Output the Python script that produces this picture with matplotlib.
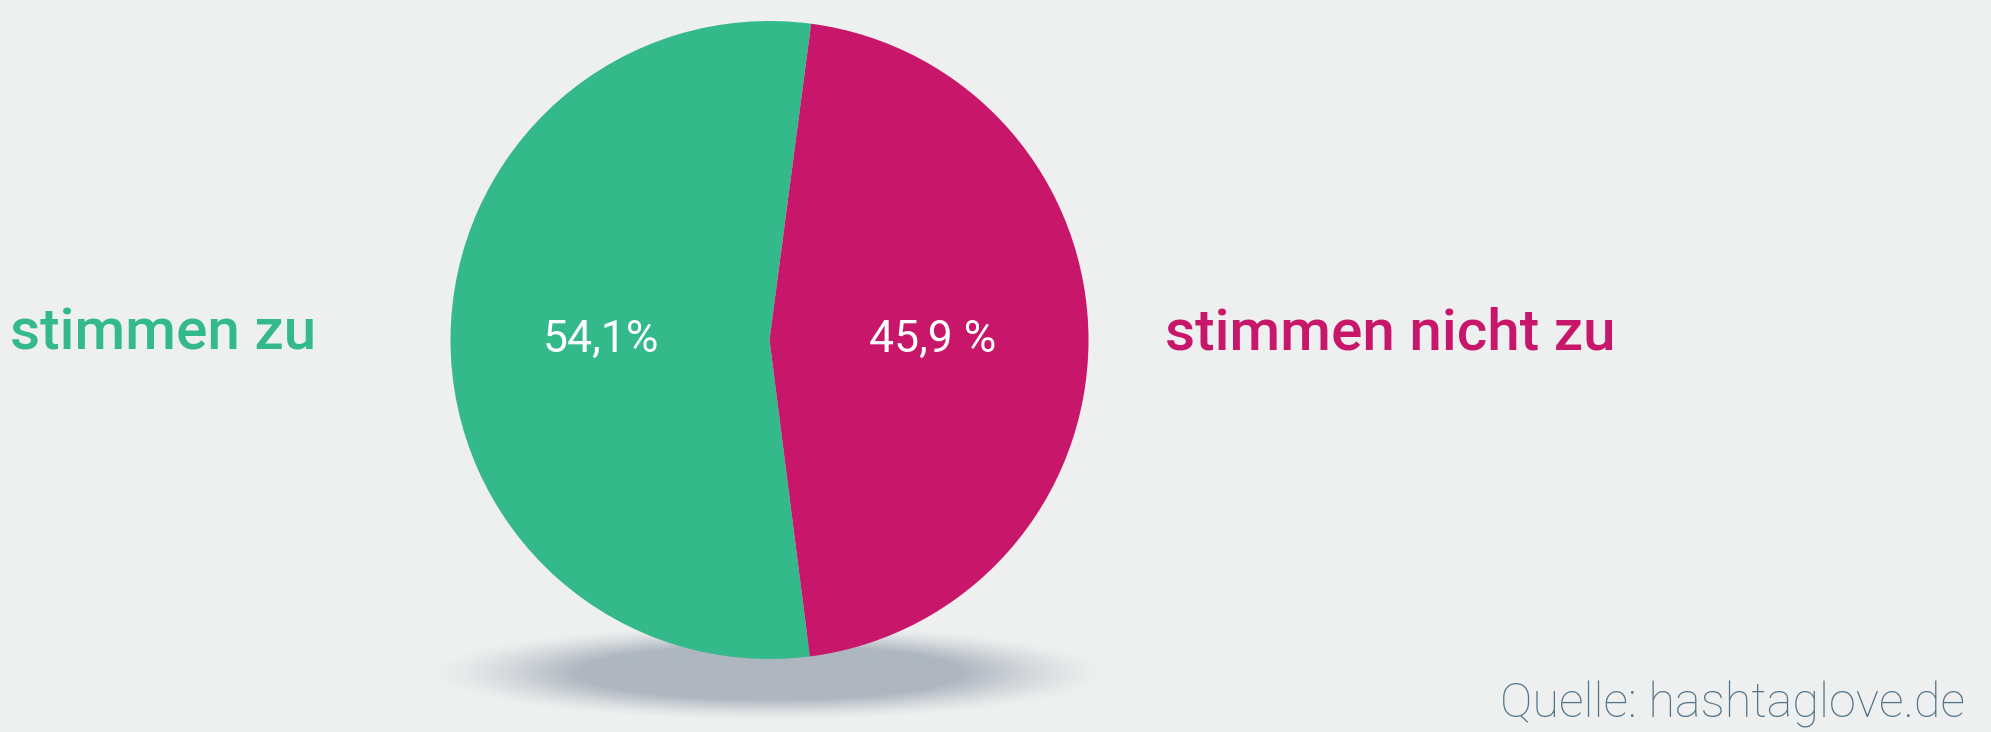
import numpy as np
import matplotlib
matplotlib.use('Agg')
import matplotlib.pyplot as plt

categories = ['stimmen zu', 'stimmen nicht zu']
shares = [54.1, 45.9]
pct_labels = ['54,1%', '45,9 %']
colors = ['#33b98a', '#c8176a']
source = 'Quelle: hashtaglove.de'

W, H = 1991, 732
bg = '#eef0ef'

fig = plt.figure(figsize=(W / 100, H / 100), dpi=100, facecolor=bg)
ax = fig.add_axes([0, 0, 1, 1])
ax.set_facecolor(bg)

# soft shadow under the pie
cx, cy, r = 769.5, H - 340, 319
sx, sy = np.meshgrid(np.linspace(-1.6, 1.6, 400), np.linspace(-1.6, 1.6, 120))
d = np.sqrt(sx ** 2 + sy ** 2)
alpha = np.clip((1.4 - d) / 0.6, 0, 1) ** 1.3
img = np.zeros(sx.shape + (4,))
img[..., :3] = matplotlib.colors.to_rgb('#aeb6c0')
img[..., 3] = alpha
ax.imshow(img, extent=(cx - 1.6 * 240, cx + 1.6 * 240, H - 673 - 1.6 * 34, H - 673 + 1.6 * 34),
          aspect='auto', zorder=0, interpolation='bilinear')

ax.pie(shares, colors=colors, startangle=82.5, counterclock=True,
       center=(cx, cy), radius=r, wedgeprops=dict(linewidth=0), frame=True)

ax.text(601, H - 352, pct_labels[0], color='white', fontsize=32, family='Roboto',
        ha='center', va='baseline', zorder=5)
ax.text(933, H - 352, pct_labels[1], color='white', fontsize=32, family='Roboto',
        ha='center', va='baseline', zorder=5)

ax.text(10, H - 349, categories[0], color=colors[0], fontsize=42, family='Roboto',
        ha='left', va='baseline', fontweight='medium')
ax.text(1165, H - 349, categories[1], color=colors[1], fontsize=42, family='Roboto',
        ha='left', va='baseline', fontweight='medium')

ax.text(1965, H - 718, source, color='#527489', fontsize=35, family='Roboto',
        fontweight='light', ha='right', va='baseline')

ax.set_xlim(0, W)
ax.set_ylim(0, H)
ax.set_aspect('equal')
ax.axis('off')

fig.savefig('out.png', dpi=100, facecolor=bg)
